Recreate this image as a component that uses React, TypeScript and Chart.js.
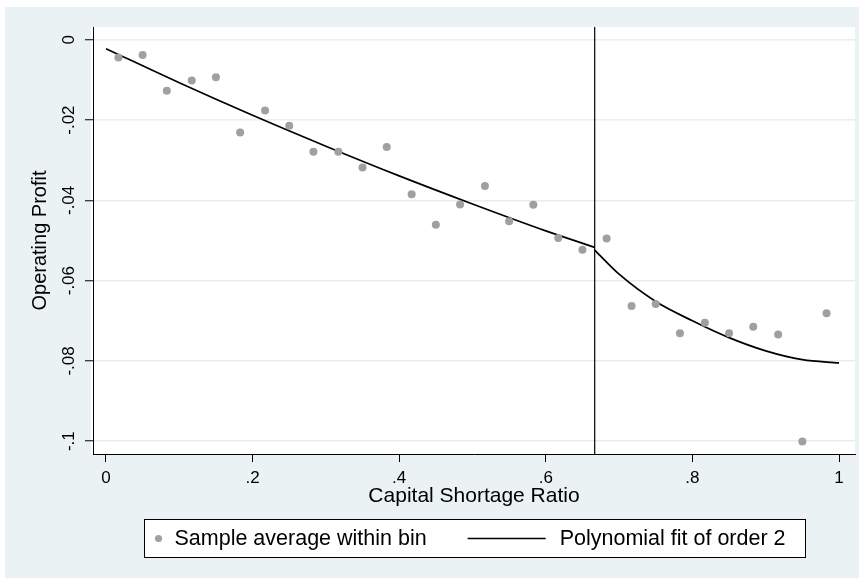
import React, { useEffect, useRef } from 'react';
import { Chart, registerables } from 'chart.js';

Chart.register(...registerables);

const FONT = '"Liberation Sans", Arial, Helvetica, sans-serif';

// ---- data ----
const BIN_X = [
  0.017, 0.05, 0.083, 0.117, 0.15, 0.183, 0.217, 0.25, 0.283, 0.317,
  0.35, 0.383, 0.417, 0.45, 0.483, 0.517, 0.55, 0.583, 0.617, 0.65,
  0.683, 0.717, 0.75, 0.783, 0.817, 0.85, 0.883, 0.917, 0.95, 0.983,
];
const BIN_Y = [
  -0.0044, -0.0038, -0.0127, -0.0101, -0.0093, -0.0231, -0.0176, -0.0214, -0.0279, -0.0279,
  -0.0318, -0.0267, -0.0385, -0.0461, -0.041, -0.0364, -0.0452, -0.0411, -0.0494, -0.0523,
  -0.0495, -0.0663, -0.0658, -0.0731, -0.0705, -0.0731, -0.0715, -0.0734, -0.1001, -0.0681,
];

const FIT_LEFT_X = [0, 0.1, 0.2, 0.3, 0.4, 0.5, 0.6, 0.6667];
const FIT_LEFT_Y = [-0.0022, -0.0107, -0.0188, -0.0265, -0.0339, -0.0409, -0.0476, -0.0517];

const FIT_RIGHT_X = [0.6667, 0.7, 0.75, 0.8, 0.85, 0.9, 0.95, 1.0];
const FIT_RIGHT_Y = [-0.0524, -0.0584, -0.0652, -0.07, -0.0742, -0.0775, -0.0797, -0.0805];

const CUTOFF = 0.6667;

const X_TICKS = [0, 0.2, 0.4, 0.6, 0.8, 1];
const X_TICK_LABELS = ['0', '.2', '.4', '.6', '.8', '1'];
const Y_TICKS = [0, -0.02, -0.04, -0.06, -0.08, -0.1];
const Y_TICK_LABELS = ['0', '-.02', '-.04', '-.06', '-.08', '-.1'];

const X_AXIS_MIN = -0.0177;
const X_AXIS_MAX = 1.0218;
const Y_AXIS_MIN = -0.1032;
const Y_AXIS_MAX = 0.0032;

const X_TITLE = 'Capital Shortage Ratio';
const Y_TITLE = 'Operating Profit';
const LEGEND_LABELS = ['Sample average within bin', 'Polynomial fit of order 2'];

const BG = '#eaf2f3';
const DOT = '#a0a0a0';

const bgPlugin = {
  id: 'stataBackground',
  beforeDraw(chart: any) {
    const { ctx, chartArea: a, width, height } = chart;
    ctx.save();
    ctx.fillStyle = '#ffffff';
    ctx.fillRect(0, 0, width, height);
    ctx.fillStyle = BG;
    ctx.fillRect(5, 7, width - 11, height - 7);
    ctx.fillStyle = '#ffffff';
    ctx.fillRect(a.left - 2, a.top, a.right - a.left + 2, a.bottom - a.top);
    ctx.restore();
  },
};

const legendPlugin = {
  id: 'stataLegend',
  afterDraw(chart: any) {
    const { ctx, chartArea: a, height } = chart;
    const pts = chart.data.datasets[0];
    const fit = chart.data.datasets[1];
    ctx.save();
    ctx.font = `21.5px ${FONT}`;
    const w1 = ctx.measureText(LEGEND_LABELS[0]).width;
    const w2 = ctx.measureText(LEGEND_LABELS[1]).width;
    const boxW = Math.round(30 + w1 + 133 + w2 + 20);
    const cx = (a.left + a.right) / 2;
    const left = Math.round(cx - boxW / 2) + 0.5;
    const top = height - 59 + 0.5;
    const h = 38;
    ctx.fillStyle = '#ffffff';
    ctx.fillRect(left, top, boxW, h);
    ctx.strokeStyle = '#000';
    ctx.lineWidth = 1;
    ctx.strokeRect(left, top, boxW, h);
    const cy = top + h / 2;
    ctx.fillStyle = pts.backgroundColor;
    ctx.beginPath();
    ctx.arc(left + 14, cy, 3.6, 0, Math.PI * 2);
    ctx.fill();
    ctx.fillStyle = '#000';
    ctx.textBaseline = 'middle';
    ctx.textAlign = 'left';
    ctx.fillText(LEGEND_LABELS[0], left + 30, cy + 1);
    const lx = left + 30 + w1;
    ctx.strokeStyle = fit.borderColor;
    ctx.lineWidth = fit.borderWidth;
    ctx.beginPath();
    ctx.moveTo(lx + 41, cy);
    ctx.lineTo(lx + 119, cy);
    ctx.stroke();
    ctx.fillText(LEGEND_LABELS[1], lx + 133, cy + 1);
    ctx.restore();
  },
};

export default function App() {
  const ref = useRef<HTMLCanvasElement | null>(null);

  useEffect(() => {
    if (!ref.current) return;
    Chart.defaults.font.family = FONT;
    const points = BIN_X.map((x, i) => ({ x, y: BIN_Y[i] }));
    const fitL = FIT_LEFT_X.map((x, i) => ({ x, y: FIT_LEFT_Y[i] }));
    const fitR = FIT_RIGHT_X.map((x, i) => ({ x, y: FIT_RIGHT_Y[i] }));
    const cut = [
      { x: CUTOFF, y: Y_AXIS_MAX },
      { x: CUTOFF, y: Y_AXIS_MIN },
    ];
    const lineDs = (data: any) => ({
      type: 'line',
      data,
      borderColor: '#000000',
      borderWidth: 1.7,
      pointRadius: 0,
      fill: false,
      cubicInterpolationMode: 'monotone',
    });
    const chart = new Chart(ref.current, {
      type: 'scatter',
      data: {
        datasets: [
          {
            type: 'scatter',
            label: LEGEND_LABELS[0],
            data: points,
            backgroundColor: DOT,
            borderWidth: 0,
            pointRadius: 4,
          } as any,
          { ...lineDs(fitL), label: LEGEND_LABELS[1] } as any,
          lineDs(fitR) as any,
          {
            type: 'line',
            data: cut,
            borderColor: '#000000',
            borderWidth: 1.2,
            pointRadius: 0,
            fill: false,
          } as any,
        ],
      },
      options: {
        animation: false,
        responsive: false,
        devicePixelRatio: 1,
        layout: { padding: { top: 27, right: 10, bottom: 65, left: 0 } },
        plugins: {
          legend: { display: false },
          tooltip: { enabled: false },
        },
        scales: {
          x: {
            type: 'linear',
            min: X_AXIS_MIN,
            max: X_AXIS_MAX,
            afterBuildTicks: (s: any) => {
              s.ticks = X_TICKS.map((v) => ({ value: v }));
            },
            afterFit: (s: any) => {
              s.height = 59;
            },
            grid: {
              display: true,
              drawOnChartArea: false,
              drawTicks: true,
              tickLength: 8,
              tickColor: '#000',
              tickWidth: 1,
            },
            border: { display: true, color: '#000', width: 1 },
            ticks: {
              callback: (_v: any, i: number) => X_TICK_LABELS[i],
              font: { family: FONT, size: 17 },
              color: '#000',
              padding: 6,
              maxRotation: 0,
              autoSkip: false,
            },
            title: {
              display: true,
              text: X_TITLE,
              font: { family: FONT, size: 21 },
              color: '#000',
              padding: { top: 0, bottom: 4 },
            },
          },
          y: {
            type: 'linear',
            min: Y_AXIS_MIN,
            max: Y_AXIS_MAX,
            afterBuildTicks: (s: any) => {
              s.ticks = Y_TICKS.map((v) => ({ value: v }));
            },
            afterFit: (s: any) => {
              s.width = 93;
            },
            grid: {
              color: '#e6eef0',
              lineWidth: 1.5,
              drawTicks: true,
              tickLength: 8,
              tickColor: '#000',
              tickWidth: 1,
            },
            border: { display: true, color: '#000', width: 1 },
            ticks: {
              callback: (_v: any, i: number) => Y_TICK_LABELS[i],
              font: { family: FONT, size: 17 },
              color: '#000',
              padding: 1,
              minRotation: 90,
              maxRotation: 90,
              crossAlign: 'center',
              autoSkip: false,
            },
            title: {
              display: true,
              text: Y_TITLE,
              font: { family: FONT, size: 20 },
              color: '#000',
              padding: { top: 28, bottom: 0 },
            },
          },
        },
      } as any,
      plugins: [bgPlugin, legendPlugin],
    });
    return () => chart.destroy();
  }, []);

  return (
    <div style={{ position: 'fixed', left: 0, top: 0, width: 865, height: 578 }}>
      <canvas ref={ref} width={865} height={578} style={{ display: 'block' }} />
    </div>
  );
}
